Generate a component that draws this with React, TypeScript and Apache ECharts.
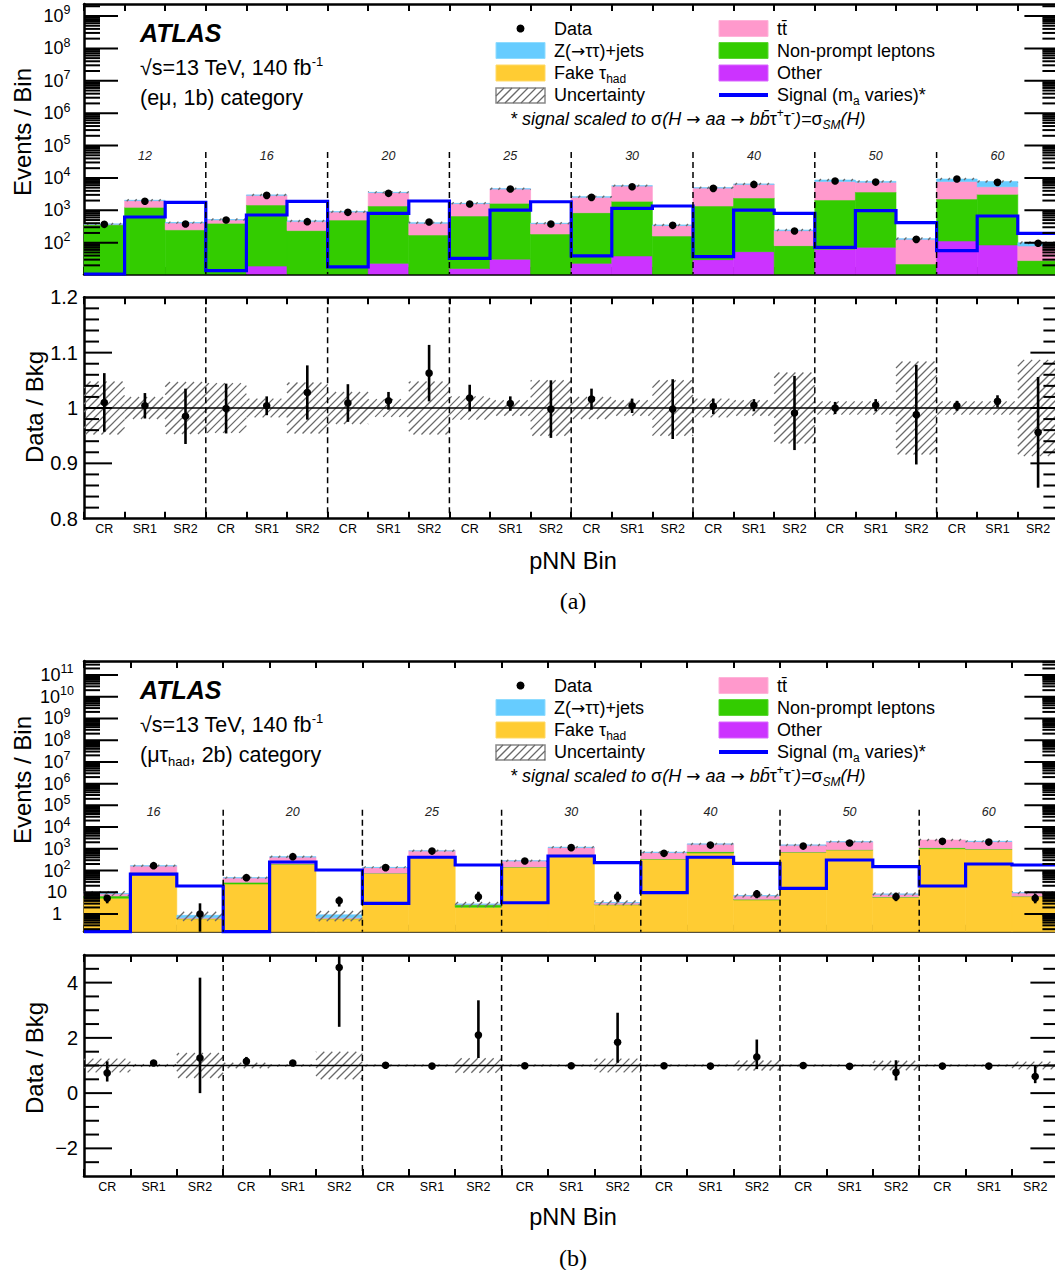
import React, { useEffect, useRef } from "react";
import * as echarts from "echarts";

// ---------------- data ----------------
const regionLabels = ["CR", "SR1", "SR2"];
const massPointsA = ["12", "16", "20", "25", "30", "40", "50", "60"];
const massPointsB = ["16", "20", "25", "30", "40", "50", "60"];

// (a) (e mu, 1b) category — background components per bin (events)
const otherA = [3, 6, 4, 5, 19, 6, 8, 23, 8, 16, 31, 6, 23, 39, 8, 30, 53, 5, 63, 72, 5, 113, 85, 3];
const fakeTauA = [0, 0, 0, 0, 0, 0, 0, 0, 0, 0, 0, 0, 0, 0, 0, 0, 0, 0, 0, 0, 0, 0, 0, 0];
const nonPromptA = [355, 1230, 245, 395, 1440, 230, 490, 1335, 165, 650, 1615, 180, 820, 1860, 153, 1330, 2350, 76, 2020, 3600, 17, 2120, 3035, 25];
const ttbarA = [15, 760, 160, 110, 1460, 225, 395, 2170, 225, 950, 2900, 205, 1700, 3740, 180, 3530, 3950, 155, 5720, 3630, 105, 5570, 2230, 51];
const zttA = [7, 45, 8, 8, 50, 10, 15, 60, 15, 30, 95, 8, 90, 100, 12, 100, 130, 10, 800, 500, 6, 1450, 2450, 21];
const dataA = [370, 1900, 378, 502, 2900, 445, 867, 3350, 435, 1563, 4540, 378, 2512, 5350, 344, 4770, 6300, 230, 8020, 7460, 127, 9250, 7310, 96];
const signalA = [5, 621, 1766, 13.7, 716, 1897, 18, 807, 1937, 33, 1020, 1841, 39, 1150, 1358, 37, 1020, 807, 72, 972, 414, 57, 667, 195];
const bkgUncA = [0.048, 0.02, 0.047, 0.045, 0.017, 0.046, 0.029, 0.016, 0.048, 0.021, 0.014, 0.05, 0.02, 0.014, 0.05, 0.017, 0.014, 0.064, 0.012, 0.012, 0.084, 0.012, 0.012, 0.087];
const ratioA = [1.01, 1.004, 0.985, 0.999, 1.004, 1.028, 1.009, 1.013, 1.063, 1.018, 1.008, 0.998, 1.016, 1.004, 0.998, 1.003, 1.005, 0.991, 1.0, 1.005, 0.988, 1.004, 1.012, 0.956];
const ratioErrA = [0.053, 0.023, 0.05, 0.045, 0.017, 0.049, 0.034, 0.016, 0.051, 0.024, 0.013, 0.052, 0.019, 0.013, 0.054, 0.014, 0.011, 0.067, 0.011, 0.011, 0.09, 0.009, 0.011, 0.1];

// (b) (mu tau_had, 2b) category
const otherB = [0.05, 0.05, 0.05, 0.05, 0.05, 0.05, 0.05, 0.05, 0.05, 0.05, 0.05, 0.05, 0.05, 0.05, 0.05, 0.05, 0.05, 0.05, 0.05, 0.05, 0.05];
const fakeTauB = [5.3, 75, 0.55, 24, 194, 0.55, 74, 430, 2.0, 141, 519, 2.6, 329, 641, 4.4, 690, 880, 5.85, 1010, 950, 6.25];
const nonPromptB = [1.4, 6, 0.02, 4.9, 6, 0.02, 2, 6, 0.6, 3, 10, 0.1, 15, 95, 0.3, 20, 20, 0.2, 120, 30, 0.3];
const ttbarB = [1.8, 80, 0.05, 17, 215, 0.05, 62, 370, 0.15, 135, 630, 0.55, 340, 915, 2.1, 770, 1210, 2.0, 1400, 1200, 2.8];
const zttB = [0.3, 6, 0.2, 1, 18, 0.25, 2, 10, 0.05, 4, 15, 0.05, 5, 12, 0.2, 10, 15, 0.25, 10, 30, 0.25];
const dataB = [5.3, 167, 1.0, 47, 433, 4.1, 136, 790, 6.25, 275, 1130, 6.25, 621, 1490, 8.3, 1340, 1850, 6.25, 2210, 2050, 5.3];
const dataErrLowB = [3.1, null, 0, null, null, 2.2, null, null, 3.65, null, null, 3.65, null, null, 5.3, null, null, 3.9, null, null, 3.1];
const dataErrHighB = [7.5, null, 3.1, null, null, 6.3, null, null, 10.6, null, null, 10.6, null, null, 12.7, null, null, 9.6, null, null, 8.5];
const signalB = [0.05, 69, 19.4, 0.05, 247, 106, 3.1, 408, 180, 3.3, 467, 230, 9.6, 408, 215, 15.2, 305, 150, 19.4, 200, 180];
const bkgUncB = [0.25, 0.05, 0.45, 0.1, 0.04, 0.5, 0.03, 0.03, 0.26, 0.03, 0.03, 0.25, 0.03, 0.03, 0.18, 0.03, 0.03, 0.17, 0.03, 0.03, 0.14];
const ratioB = [0.73, 1.09, 1.27, 1.15, 1.09, 4.55, 1.01, 0.98, 2.1, 0.99, 0.99, 1.84, 0.99, 0.98, 1.31, 1.0, 0.97, 0.75, 0.98, 0.98, 0.6];
const ratioLowB = [0.42, 1.05, 0, 1.03, 1.05, 2.4, 0.97, 0.95, 1.27, 0.95, 0.96, 1.1, 0.95, 0.95, 0.87, 0.96, 0.94, 0.46, 0.95, 0.95, 0.36];
const ratioHighB = [1.15, 1.13, 4.18, 1.31, 1.13, 6.7, 1.05, 1.01, 3.36, 1.03, 1.02, 2.91, 1.03, 1.01, 1.94, 1.04, 1.0, 1.19, 1.01, 1.01, 0.99];

// ---------------- style ----------------
const FONT = '"Liberation Sans", Arial, Helvetica, sans-serif';
const ARROW_FONT = '"DejaVu Sans", "Liberation Sans", sans-serif';
const SERIF = '"Liberation Serif", "Times New Roman", serif';
const STACK_COLORS = ["#cc33ff", "#ffcc33", "#33cc00", "#ff99cc", "#66ccff"];
const SIGNAL_COLOR = "#0000ff";
const HATCH = { spacing: 8, color: "#6a6a6a", width: 1.3 };
const DASH_TOP_VALUE = 6.3e4;
const MASS_LABEL_VALUE = 4.7e4;

const clamp = (v: number, a: number, b: number) => Math.min(b, Math.max(a, v));
const lg = (v: number, lo: number, hi: number) => (v > 0 ? clamp(Math.log10(v), lo, hi) : lo);

function hatchLines(x0: number, y0: number, x1: number, y1: number) {
  const out: any[] = [];
  const s = HATCH.spacing;
  const cStart = Math.ceil((x0 + y0) / s) * s;
  for (let c = cStart; c <= x1 + y1; c += s) {
    const xa = Math.max(x0, c - y1);
    const xb = Math.min(x1, c - y0);
    if (xb - xa > 0.05) {
      out.push({
        type: "line",
        shape: { x1: xa, y1: c - xa, x2: xb, y2: c - xb },
        style: { stroke: HATCH.color, lineWidth: HATCH.width },
      });
    }
  }
  return out;
}

const PANELS = [
  {
    cats: massPointsA.flatMap(() => regionLabels),
    masses: massPointsA,
    comps: [otherA, fakeTauA, nonPromptA, ttbarA, zttA],
    data: dataA,
    dataLo: null as any,
    dataHi: null as any,
    signal: signalA,
    unc: bkgUncA,
    ratio: ratioA,
    ratioLo: ratioA.map((r, i) => r - ratioErrA[i]),
    ratioHi: ratioA.map((r, i) => r + ratioErrA[i]),
    mainTop: 4,
    mainH: 270,
    minLog: 1.0335,
    maxLog: 9.3705,
    ratioTop: 297.3,
    ratioH: 221.4,
    rMin: 0.8,
    rMax: 1.2,
    rMajor: 0.1,
    rMinor: 0.02,
    dy: 0,
    eventsTitleY: 132,
    ratioTitleY: 407,
    xTitleY: 561,
    tagY: 601,
    tag: "(a)",
    catText: "{big|(eμ, 1b) category}",
  },
  {
    cats: massPointsB.flatMap(() => regionLabels),
    masses: massPointsB,
    comps: [otherB, fakeTauB, nonPromptB, ttbarB, zttB],
    data: dataB,
    dataLo: dataErrLowB,
    dataHi: dataErrHighB,
    signal: signalB,
    unc: bkgUncB,
    ratio: ratioB,
    ratioLo: ratioLowB,
    ratioHi: ratioHighB,
    mainTop: 661,
    mainH: 270.7,
    minLog: -0.8147,
    maxLog: 11.644,
    ratioTop: 955,
    ratioH: 221,
    rMin: -3,
    rMax: 5,
    rMajor: 2,
    rMinor: 0.5,
    dy: 657,
    eventsTitleY: 780,
    ratioTitleY: 1058,
    xTitleY: 1217,
    tagY: 1258,
    tag: "(b)",
    catText: "{big|(μτ}{bigsub|had}{big|, 2b) category}",
  },
];

const GRID_LEFT = 84;
const GRID_WIDTH = 974.4;

const RICH = {
  n: { fontSize: 18, fontFamily: FONT, color: "#000", lineHeight: 24 },
  ar: { fontSize: 17, fontFamily: ARROW_FONT, color: "#000", lineHeight: 24 },
  big: { fontSize: 21.5, fontFamily: FONT, color: "#000", lineHeight: 26 },
  bigsup: { fontSize: 13, fontFamily: FONT, color: "#000", lineHeight: 13, verticalAlign: "top" },
  bigsub: { fontSize: 13, fontFamily: FONT, color: "#000", lineHeight: 13, verticalAlign: "bottom" },
  sub: { fontSize: 12, fontFamily: FONT, color: "#000", lineHeight: 12, verticalAlign: "bottom" },
  sup: { fontSize: 12, fontFamily: FONT, color: "#000", lineHeight: 12, verticalAlign: "top" },
  i: { fontSize: 18, fontFamily: FONT, fontStyle: "italic", color: "#000", lineHeight: 24 },
  g: { fontSize: 18, fontFamily: FONT, color: "#000", lineHeight: 24 },
  subi: { fontSize: 12, fontFamily: FONT, fontStyle: "italic", color: "#000", lineHeight: 12, verticalAlign: "bottom" },
};

function gText(x: number, y: number, text: string, style: any = {}, extra: any = {}) {
  return {
    type: "text",
    x,
    y,
    silent: true,
    ...extra,
    style: {
      text,
      fontFamily: FONT,
      fontSize: 18,
      fill: "#000",
      align: "left",
      textAlign: "left",
      verticalAlign: "middle",
      textVerticalAlign: "middle",
      rich: RICH,
      ...style,
    },
  };
}

function buildOption() {
  const grid: any[] = [];
  const xAxis: any[] = [];
  const yAxis: any[] = [];
  const series: any[] = [];
  const graphic: any[] = [];

  const frameLine = { show: true, onZero: false, lineStyle: { color: "#000", width: 2.5 } };

  PANELS.forEach((P, pi) => {
    const gM = pi * 2;
    const gR = pi * 2 + 1;
    grid.push({ left: GRID_LEFT, width: GRID_WIDTH, top: P.mainTop, height: P.mainH, containLabel: false, outerBoundsMode: "none" });
    grid.push({ left: GRID_LEFT, width: GRID_WIDTH, top: P.ratioTop, height: P.ratioH, containLabel: false, outerBoundsMode: "none" });

    [gM, gR].forEach((g) => {
      const isRatio = g === gR;
      const xTick = { show: true, inside: true, length: 7, lineStyle: { color: "#000", width: 2 } };
      xAxis.push({
        type: "category", gridIndex: g, position: "bottom", data: P.cats, boundaryGap: true,
        axisLine: frameLine, axisTick: xTick,
        axisLabel: { show: isRatio, interval: 0, fontSize: 12.5, color: "#000", fontFamily: FONT, margin: 4 },
        splitLine: { show: false },
      });
      xAxis.push({
        type: "category", gridIndex: g, position: "top", data: P.cats, boundaryGap: true,
        axisLine: frameLine, axisTick: xTick, axisLabel: { show: false }, splitLine: { show: false },
      });
      if (!isRatio) {
        yAxis.push({
          type: "value", gridIndex: g, position: "left", min: P.minLog, max: P.maxLog,
          minInterval: 1, maxInterval: 1, splitNumber: 10,
          axisLine: frameLine, axisTick: { show: false }, splitLine: { show: false },
          axisLabel: {
            show: true, align: "center", margin: 27, hideOverlap: false,
            formatter: (v: number) => {
              const n = Math.round(v);
              if (Math.abs(v - n) > 1e-6) return "";
              if (n === 0) return "{b|1}";
              if (n === 1) return "{b|10}";
              return "{b|10}{e|" + n + "}";
            },
            rich: {
              b: { fontSize: 18, fontFamily: FONT, color: "#000", lineHeight: 24 },
              e: { fontSize: 12.5, fontFamily: FONT, color: "#000", lineHeight: 12, verticalAlign: "top" },
            },
          },
        });
      } else {
        const ratioAxis: any = {
          type: "value", gridIndex: g, position: "left", min: P.rMin, max: P.rMax,
          axisLine: frameLine, axisTick: { show: false }, splitLine: { show: false },
          axisLabel: { show: true, fontSize: 20, fontFamily: FONT, color: "#000", margin: 6 },
        };
        if (pi === 0) {
          ratioAxis.interval = 0.1;
          ratioAxis.axisLabel.formatter = (v: number) => String(Math.round(v * 10) / 10);
        } else {
          ratioAxis.minInterval = 2;
          ratioAxis.maxInterval = 2;
          ratioAxis.axisLabel.formatter = (v: number) => {
            const n = Math.round(v);
            if (Math.abs(v - n) > 1e-6 || n % 2 !== 0) return "";
            return n < 0 ? "\u2212" + Math.abs(n) : String(n);
          };
        }
        yAxis.push(ratioAxis);
      }
      yAxis.push({
        type: "value", gridIndex: g, position: "right",
        min: isRatio ? P.rMin : P.minLog, max: isRatio ? P.rMax : P.maxLog,
        axisLine: frameLine, axisTick: { show: false }, axisLabel: { show: false }, splitLine: { show: false },
      });
    });

    const xiM = pi * 4, yiM = pi * 4;
    const xiR = pi * 4 + 2, yiR = pi * 4 + 2;
    const midM = (P.minLog + P.maxLog) / 2;
    const midR = (P.rMin + P.rMax) / 2;
    const binItemsM = P.cats.map((_, i) => [i, midM]);
    const binItemsR = P.cats.map((_, i) => [i, midR]);
    const base = { type: "custom", silent: true, animation: false };
    const band = (api: any, i: number, yv: number) => {
      const bw = api.size([1, 0])[0];
      const cx = api.coord([i, yv])[0];
      return [cx - bw / 2, cx + bw / 2, cx];
    };
    const totalAt = (i: number) => P.comps.reduce((s, arr) => s + arr[i], 0);
    const L = (v: number) => lg(v, P.minLog, P.maxLog);

    // stacked backgrounds
    series.push({
      ...base, xAxisIndex: xiM, yAxisIndex: yiM, z: 2, data: binItemsM,
      renderItem: (params: any, api: any) => {
        const i = params.dataIndex;
        const [x0, x1] = band(api, i, midM);
        let cum = 0;
        const children: any[] = [];
        P.comps.forEach((arr, k) => {
          const v = arr[i];
          const lo = cum;
          cum += v;
          if (!(v > 0)) return;
          const ylo = api.coord([i, L(lo)])[1];
          const yhi = api.coord([i, L(cum)])[1];
          if (ylo - yhi < 0.05) return;
          children.push({
            type: "rect",
            shape: { x: x0, y: yhi, width: x1 - x0, height: ylo - yhi },
            style: { fill: STACK_COLORS[k], stroke: STACK_COLORS[k], lineWidth: 0.6 },
          });
        });
        return { type: "group", children };
      },
    });

    // uncertainty band on main
    series.push({
      ...base, xAxisIndex: xiM, yAxisIndex: yiM, z: 3, data: binItemsM,
      renderItem: (params: any, api: any) => {
        const i = params.dataIndex;
        const [x0, x1] = band(api, i, midM);
        const t = totalAt(i);
        let y0 = api.coord([i, L(t * (1 + P.unc[i]))])[1];
        let y1 = api.coord([i, L(t * (1 - P.unc[i]))])[1];
        if (y1 - y0 < 2) {
          const m = (y0 + y1) / 2;
          y0 = m - 1;
          y1 = m + 1;
        }
        return { type: "group", children: hatchLines(x0, y0, x1, y1) };
      },
    });

    // signal step line
    series.push({
      ...base, xAxisIndex: xiM, yAxisIndex: yiM, z: 4, data: [[0, midM]],
      renderItem: (params: any, api: any) => {
        const pts: number[][] = [];
        P.signal.forEach((v, i) => {
          const [x0, x1] = band(api, i, midM);
          const y = api.coord([i, L(v)])[1];
          pts.push([x0, y], [x1, y]);
        });
        return {
          type: "polyline",
          shape: { points: pts },
          style: { stroke: SIGNAL_COLOR, lineWidth: 3.2, fill: "none", lineJoin: "miter" },
        };
      },
    });

    // dashed separators + mass labels (main)
    series.push({
      ...base, xAxisIndex: xiM, yAxisIndex: yiM, z: 5, data: [[0, midM]],
      renderItem: (params: any, api: any) => {
        const cs = params.coordSys;
        const children: any[] = [];
        const yTop = api.coord([0, L(DASH_TOP_VALUE)])[1];
        const yLab = api.coord([0, L(MASS_LABEL_VALUE)])[1];
        P.masses.forEach((m, k) => {
          if (k > 0) {
            const [x0] = band(api, 3 * k, midM);
            children.push({
              type: "line",
              shape: { x1: x0, y1: yTop, x2: x0, y2: cs.y + cs.height },
              style: { stroke: "#000", lineWidth: 1.5, lineDash: [6, 4] },
            });
          }
          const [, , cx] = band(api, 3 * k + 1, midM);
          children.push({
            type: "text",
            x: cx,
            y: yLab,
            style: {
              text: m, fontFamily: FONT, fontSize: 12.5, fontStyle: "italic", fill: "#222",
              align: "center", verticalAlign: "middle", textAlign: "center", textVerticalAlign: "middle",
            },
          });
        });
        return { type: "group", children };
      },
    });

    // data points main
    series.push({
      ...base, xAxisIndex: xiM, yAxisIndex: yiM, z: 6, data: binItemsM,
      renderItem: (params: any, api: any) => {
        const i = params.dataIndex;
        const p = api.coord([i, L(P.data[i])]);
        const children: any[] = [];
        if (P.dataLo && P.dataLo[i] != null) {
          const ylo = api.coord([i, L(P.dataLo[i])])[1];
          const yhi = api.coord([i, L(P.dataHi[i])])[1];
          children.push({ type: "line", shape: { x1: p[0], y1: ylo, x2: p[0], y2: yhi }, style: { stroke: "#000", lineWidth: 2.6 } });
        }
        children.push({ type: "circle", shape: { cx: p[0], cy: p[1], r: 3.8 }, style: { fill: "#000" } });
        return { type: "group", children };
      },
    });

    // y ticks main (log)
    series.push({
      ...base, xAxisIndex: xiM, yAxisIndex: yiM, z: 7, data: [[0, midM]],
      renderItem: (params: any, api: any) => {
        const cs = params.coordSys;
        const xl = cs.x;
        const xr = cs.x + cs.width;
        const children: any[] = [];
        const tick = (lv: number, len: number) => {
          if (lv <= P.minLog + 1e-6 || lv >= P.maxLog - 1e-6) return;
          const y = api.coord([0, lv])[1];
          children.push({ type: "line", shape: { x1: xl, y1: y, x2: xl + len, y2: y }, style: { stroke: "#000", lineWidth: 2 } });
          children.push({ type: "line", shape: { x1: xr - len, y1: y, x2: xr, y2: y }, style: { stroke: "#000", lineWidth: 2 } });
        };
        for (let n = Math.floor(P.minLog) - 1; n <= Math.ceil(P.maxLog); n++) {
          tick(n, 34);
          for (let k = 2; k <= 9; k++) tick(n + Math.log10(k), 16);
        }
        return { type: "group", children };
      },
    });

    // ---- ratio panel ----
    series.push({
      ...base, xAxisIndex: xiR, yAxisIndex: yiR, z: 3, data: binItemsR,
      renderItem: (params: any, api: any) => {
        const i = params.dataIndex;
        const [x0, x1] = band(api, i, midR);
        let y0 = api.coord([i, clamp(1 + P.unc[i], P.rMin, P.rMax)])[1];
        let y1 = api.coord([i, clamp(1 - P.unc[i], P.rMin, P.rMax)])[1];
        if (y1 - y0 < 2) {
          const m = (y0 + y1) / 2;
          y0 = m - 1;
          y1 = m + 1;
        }
        return { type: "group", children: hatchLines(x0, y0, x1, y1) };
      },
    });

    series.push({
      ...base, xAxisIndex: xiR, yAxisIndex: yiR, z: 5, data: [[0, midR]],
      renderItem: (params: any, api: any) => {
        const cs = params.coordSys;
        const xl = cs.x;
        const xr = cs.x + cs.width;
        const children: any[] = [];
        const y1v = api.coord([0, 1])[1];
        children.push({ type: "line", shape: { x1: xl, y1: y1v, x2: xr, y2: y1v }, style: { stroke: "#000", lineWidth: 1.5 } });
        P.masses.forEach((_, k) => {
          if (k === 0) return;
          const [x0] = band(api, 3 * k, midR);
          children.push({
            type: "line",
            shape: { x1: x0, y1: cs.y, x2: x0, y2: cs.y + cs.height },
            style: { stroke: "#000", lineWidth: 1.5, lineDash: [6, 4] },
          });
        });
        const tick = (v: number, len: number) => {
          if (v <= P.rMin + 1e-6 || v >= P.rMax - 1e-6) return;
          const y = api.coord([0, v])[1];
          children.push({ type: "line", shape: { x1: xl, y1: y, x2: xl + len, y2: y }, style: { stroke: "#000", lineWidth: 2 } });
          children.push({ type: "line", shape: { x1: xr - len, y1: y, x2: xr, y2: y }, style: { stroke: "#000", lineWidth: 2 } });
        };
        const nMinor = Math.round((P.rMax - P.rMin) / P.rMinor);
        for (let j = 0; j <= nMinor; j++) {
          const v = P.rMin + j * P.rMinor;
          const q = v / P.rMajor;
          const isMajor = Math.abs(q - Math.round(q)) < 1e-6;
          tick(v, isMajor ? 28 : 15);
        }
        return { type: "group", children };
      },
    });

    series.push({
      ...base, xAxisIndex: xiR, yAxisIndex: yiR, z: 6, data: binItemsR,
      renderItem: (params: any, api: any) => {
        const i = params.dataIndex;
        const p = api.coord([i, clamp(P.ratio[i], P.rMin, P.rMax)]);
        const ylo = api.coord([i, clamp(P.ratioLo[i], P.rMin, P.rMax)])[1];
        const yhi = api.coord([i, clamp(P.ratioHi[i], P.rMin, P.rMax)])[1];
        return {
          type: "group",
          children: [
            { type: "line", shape: { x1: p[0], y1: ylo, x2: p[0], y2: yhi }, style: { stroke: "#000", lineWidth: 2.6 } },
            { type: "circle", shape: { cx: p[0], cy: p[1], r: 3.8 }, style: { fill: "#000" } },
          ],
        };
      },
    });

    // ---- texts / legend ----
    const dy = P.dy;
    graphic.push(gText(140, 33 + dy, "ATLAS", { fontSize: 25, fontWeight: "bold", fontStyle: "italic" }));
    graphic.push(gText(140, 68 + dy, "{big|√s=13 TeV, 140 fb}{bigsup|-1}"));
    graphic.push(gText(140, 97.5 + dy, P.catText));

    // legend column 1
    graphic.push({ type: "circle", silent: true, shape: { cx: 520.5, cy: 28.5 + dy, r: 4 }, style: { fill: "#000" } });
    graphic.push(gText(554, 28.5 + dy, "{n|Data}"));
    graphic.push({ type: "rect", silent: true, shape: { x: 496, y: 42.5 + dy, width: 49, height: 16 }, style: { fill: STACK_COLORS[4], stroke: "#8fdcff", lineWidth: 1 } });
    graphic.push(gText(554, 50.5 + dy, "{n|Z(}{ar|→}{n|ττ)+jets}"));
    graphic.push({ type: "rect", silent: true, shape: { x: 496, y: 65 + dy, width: 49, height: 16 }, style: { fill: STACK_COLORS[1], stroke: "#ffd966", lineWidth: 1 } });
    graphic.push(gText(554, 72.5 + dy, "{n|Fake τ}{sub|had}"));
    graphic.push({ type: "rect", silent: true, shape: { x: 496, y: 88 + dy, width: 49, height: 15 }, style: { fill: "#fff", stroke: "#888", lineWidth: 1.5 } });
    graphic.push({ type: "group", silent: true, children: hatchLines(496, 88 + dy, 545, 103 + dy) });
    graphic.push(gText(554, 95 + dy, "{n|Uncertainty}"));
    // legend column 2
    graphic.push({ type: "rect", silent: true, shape: { x: 719, y: 20.5 + dy, width: 49, height: 16 }, style: { fill: STACK_COLORS[3], stroke: "#ffb3d9", lineWidth: 1 } });
    graphic.push(gText(777, 28.5 + dy, "{n|tt\u0304}"));
    graphic.push({ type: "rect", silent: true, shape: { x: 719, y: 42.5 + dy, width: 49, height: 16 }, style: { fill: STACK_COLORS[2], stroke: "#5cd633", lineWidth: 1 } });
    graphic.push(gText(777, 50.5 + dy, "{n|Non-prompt leptons}"));
    graphic.push({ type: "rect", silent: true, shape: { x: 719, y: 65 + dy, width: 49, height: 16 }, style: { fill: STACK_COLORS[0], stroke: "#d966ff", lineWidth: 1 } });
    graphic.push(gText(777, 72.5 + dy, "{n|Other}"));
    graphic.push({ type: "line", silent: true, shape: { x1: 719, y1: 95 + dy, x2: 768, y2: 95 + dy }, style: { stroke: SIGNAL_COLOR, lineWidth: 4 } });
    graphic.push(gText(777, 95 + dy, "{n|Signal (m}{sub|a}{n| varies)*}"));
    graphic.push(
      gText(510, 118.5 + dy, "{i|* signal scaled to }{g|σ}{i|(H }{ar|→}{i| aa }{ar|→}{i| bb\u0304}{g|τ}{sup|+}{g|τ}{sup|-}{i|)=}{g|σ}{subi|SM}{i|(H)}")
    );

    // axis titles
    graphic.push(gText(22, P.eventsTitleY, "Events / Bin", { fontSize: 24, align: "center", textAlign: "center" }, { rotation: Math.PI / 2 }));
    graphic.push(gText(34, P.ratioTitleY, "Data / Bkg", { fontSize: 24, align: "center", textAlign: "center" }, { rotation: Math.PI / 2 }));
    graphic.push(gText(573, P.xTitleY, "pNN Bin", { fontSize: 23.5, align: "center", textAlign: "center" }));
    graphic.push(gText(573, P.tagY, P.tag, { fontSize: 24, fontFamily: SERIF, align: "center", textAlign: "center" }));
  });

  return {
    animation: false,
    backgroundColor: "#fff",
    grid,
    xAxis,
    yAxis,
    series,
    graphic: { elements: graphic },
  };
}

export default function App() {
  const ref = useRef<HTMLDivElement>(null);
  useEffect(() => {
    if (!ref.current) return;
    const chart = echarts.init(ref.current, null, { renderer: "svg" });
    chart.setOption(buildOption() as any);
    return () => chart.dispose();
  }, []);
  return (
    <div style={{ position: "absolute", left: 0, top: 0, width: 1055, height: 1270, overflow: "hidden", background: "#fff" }}>
      <div ref={ref} style={{ width: 1070, height: 1270 }} />
    </div>
  );
}
